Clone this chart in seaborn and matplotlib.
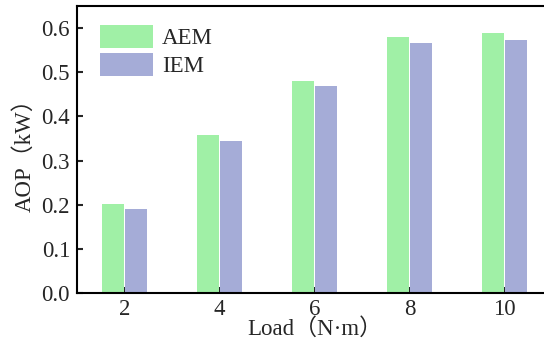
import numpy as np
import pandas as pd
import matplotlib
matplotlib.use('Agg')
import matplotlib.pyplot as plt
import seaborn as sns

loads = ['2', '4', '6', '8', '10']
aem = [0.202, 0.357, 0.480, 0.579, 0.588]
iem = [0.191, 0.345, 0.469, 0.566, 0.572]
methods = ['AEM', 'IEM']
colors = ['#A0F0A6', '#A5ACD7']

df = pd.DataFrame({
    'Load': loads * 2,
    'AOP': aem + iem,
    'Method': ['AEM'] * len(loads) + ['IEM'] * len(loads),
})

sns.set_style('ticks')
plt.rcParams['font.family'] = ['Liberation Serif', 'Noto Sans CJK SC']
plt.rcParams['font.size'] = 16.5

fig = plt.figure(figsize=(5.44, 3.45), dpi=100)
ax = fig.add_axes([77 / 544, 52 / 345, 475 / 544, 287 / 345])

sns.barplot(data=df, x='Load', y='AOP', hue='Method', order=loads, hue_order=methods,
            palette=colors, saturation=1, width=0.5, gap=0.07, linewidth=0, ax=ax)

ax.set_ylim(0, 0.65)
ax.set_xlim(-0.5, 4.5)
ax.set_yticks([0.0, 0.1, 0.2, 0.3, 0.4, 0.5, 0.6])
ax.set_yticklabels(['0.0', '0.1', '0.2', '0.3', '0.4', '0.5', '0.6'])
ax.tick_params(direction='in', length=4.5, width=1.5, labelsize=16.5, pad=5)
ax.tick_params(axis='x', pad=4)
for s in ax.spines.values():
    s.set_linewidth(1.5)
    s.set_color('black')

ax.set_xlabel('Load（N·m）', fontsize=16.5, labelpad=-1)
ax.set_ylabel('AOP（kW）', fontsize=16.5, labelpad=4)

ax.legend(loc='upper left', bbox_to_anchor=(23 / 475, 0.935), frameon=False,
          borderpad=0, borderaxespad=0, handlelength=2.3, handleheight=1.2,
          labelspacing=0.15, handletextpad=0.4, fontsize=16.5, title=None)

fig.savefig('out.png', dpi=100)
